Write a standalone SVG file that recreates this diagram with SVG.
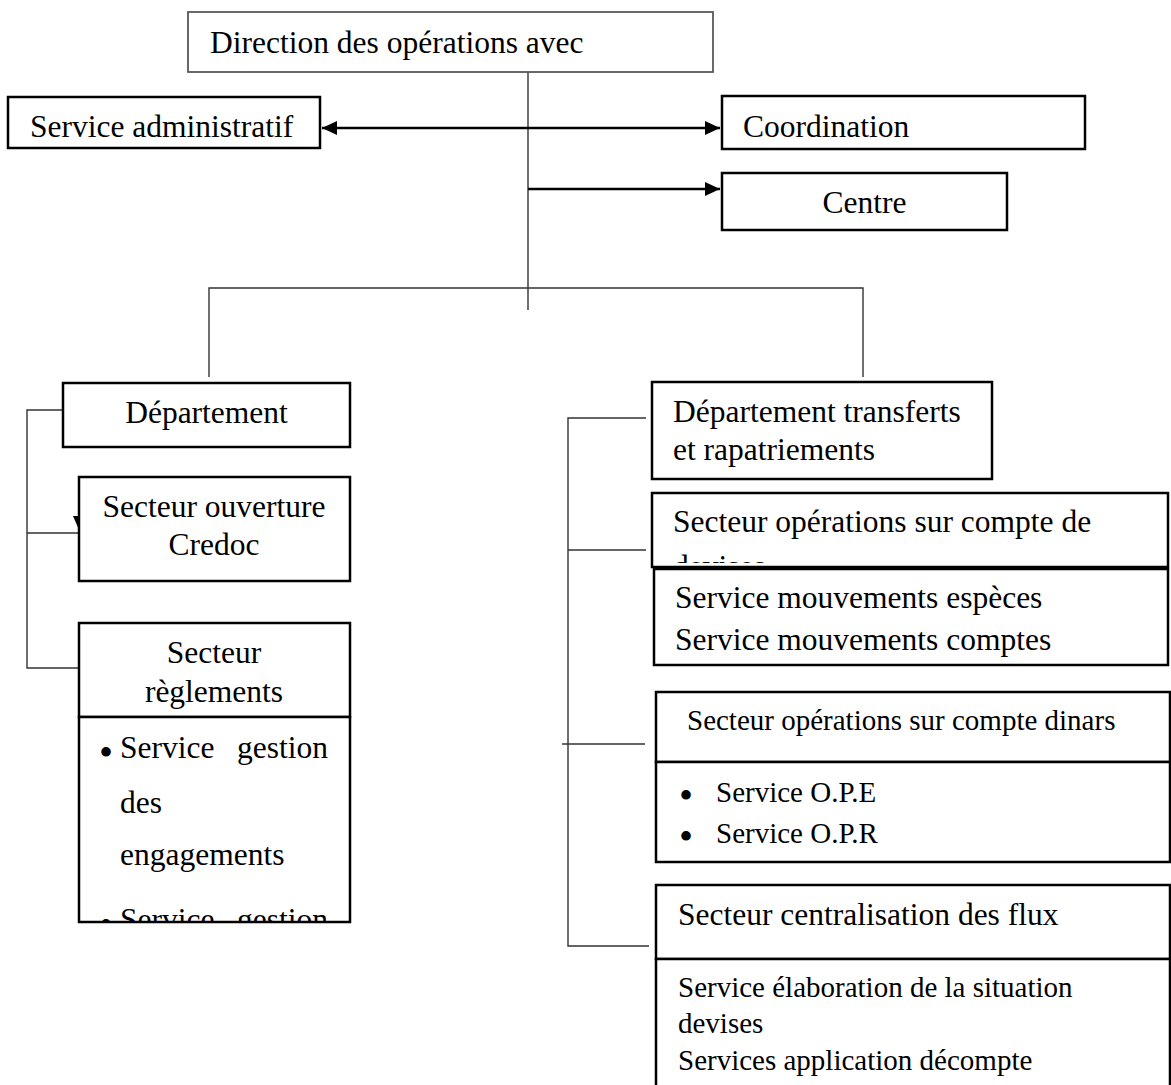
<svg xmlns="http://www.w3.org/2000/svg" width="1171" height="1085" viewBox="0 0 1171 1085">
<defs>
<style>
.t{font-family:"Liberation Serif","Times New Roman",serif;font-size:31.5px;fill:#000}
.s{font-size:29px}
.b{font-family:"Liberation Serif","Times New Roman",serif;font-size:40px;fill:#000}
.box{fill:#fff;stroke:#000;stroke-width:2.5}
.conn{fill:none;stroke:#333;stroke-width:1.4}
.arr{fill:none;stroke:#000;stroke-width:2.6}
</style>
<marker id="ah" viewBox="0 0 15 14" refX="15" refY="7" markerWidth="15" markerHeight="14" markerUnits="userSpaceOnUse" orient="auto-start-reverse"><path d="M0,0 L15,7 L0,14 z" fill="#000"/></marker>
<clipPath id="c1"><rect x="652" y="493" width="516" height="70"/></clipPath>
<clipPath id="c2"><rect x="79" y="717" width="271" height="204"/></clipPath>
</defs>
<rect width="1171" height="1085" fill="#fff"/>
<g id="connectors">
<path class="conn" d="M528,72 V310"/>
<path class="arr" d="M322,128 H720" marker-start="url(#ah)" marker-end="url(#ah)"/>
<path class="arr" d="M528,189 H720" marker-end="url(#ah)"/>
<path class="conn" d="M209,377 V288 H863 V377"/>
<path class="conn" d="M63,410 H27 V668 H79 M27,533 H79"/>
<path d="M73,516 L87,516 L80,532 z" fill="#000"/>
<path class="conn" d="M646,418 H568 V946 H649 M568,550 H646 M562,744 H645"/>
</g>
<g id="n-direction">
<rect x="188" y="12" width="525" height="60" fill="#fff" stroke="#595959" stroke-width="1.8"/>
<text class="t" x="210" y="53">Direction des opérations avec</text>
</g>
<g id="n-admin">
<rect class="box" x="8" y="97" width="312" height="51"/>
<text class="t" x="30" y="137">Service administratif</text>
</g>
<g id="n-coordination">
<rect class="box" x="722" y="96" width="363" height="53"/>
<text class="t" x="743" y="137">Coordination</text>
</g>
<g id="n-centre">
<rect class="box" x="722" y="173" width="285" height="57"/>
<text class="t" x="864.5" y="213" text-anchor="middle">Centre</text>
</g>
<g id="n-departement">
<rect class="box" x="63" y="383" width="287" height="64"/>
<text class="t" x="206.5" y="423" text-anchor="middle">Département</text>
</g>
<g id="n-ouverture">
<rect class="box" x="79" y="477" width="271" height="104"/>
<text class="t" x="214" y="517" text-anchor="middle">Secteur ouverture</text>
<text class="t" x="214" y="555" text-anchor="middle">Credoc</text>
</g>
<g id="n-reglements">
<rect class="box" x="79" y="623" width="271" height="94"/>
<text class="t" x="214" y="663" text-anchor="middle">Secteur</text>
<text class="t" x="214" y="702" text-anchor="middle">règlements</text>
<rect class="box" x="79" y="717" width="271" height="205"/>
<g clip-path="url(#c2)">
<text class="b" x="99" y="766">•</text>
<text class="t" y="758"><tspan x="120">Service</tspan><tspan x="237">gestion</tspan></text>
<text class="t" x="120" y="813">des</text>
<text class="t" x="120" y="865">engagements</text>
<text class="b" x="99" y="938">•</text>
<text class="t" y="930"><tspan x="120">Service</tspan><tspan x="237">gestion</tspan></text>
</g>
</g>
<g id="n-transferts">
<rect class="box" x="652" y="382" width="340" height="97"/>
<text class="t" x="673" y="422">Département transferts</text>
<text class="t" x="673" y="460">et rapatriements</text>
</g>
<g id="n-devises">
<rect class="box" x="652" y="493" width="516" height="74"/>
<g clip-path="url(#c1)">
<text class="t" x="673" y="532">Secteur opérations sur compte de</text>
<text class="t" x="673" y="577">devises</text>
</g>
</g>
<g id="n-mouvements">
<rect class="box" x="654" y="569" width="514" height="96"/>
<text class="t" x="675" y="608">Service mouvements espèces</text>
<text class="t" x="675" y="650">Service mouvements comptes</text>
</g>
<g id="n-dinars">
<rect class="box" x="656" y="692" width="514" height="70"/>
<text class="t s" x="687" y="730">Secteur opérations sur compte dinars</text>
<rect class="box" x="656" y="762" width="514" height="100"/>
<text class="b" x="679" y="809">•</text>
<text class="t s" x="716" y="802">Service O.P.E</text>
<text class="b" x="679" y="850">•</text>
<text class="t s" x="716" y="843">Service O.P.R</text>
</g>
<g id="n-flux">
<rect class="box" x="656" y="885" width="514" height="74"/>
<text class="t" x="678" y="925">Secteur centralisation des flux</text>
<path class="box" d="M656,1090 V959 H1170 V1090"/>
<text class="t s" x="678" y="997">Service élaboration de la situation</text>
<text class="t s" x="678" y="1033">devises</text>
<text class="t s" x="678" y="1070">Services application décompte</text>
</g>
</svg>
